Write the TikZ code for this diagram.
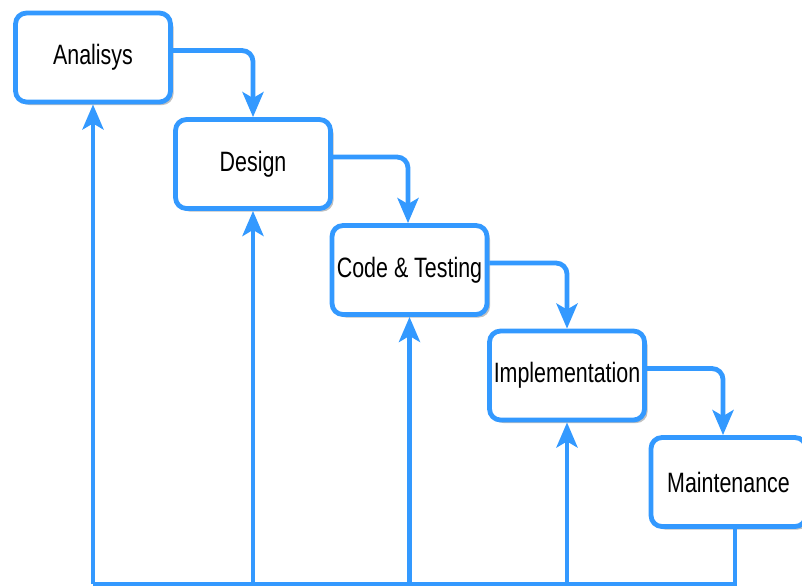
\documentclass[tikz,border=0pt]{standalone}
\usepackage{fontspec}
\setmainfont{Liberation Sans}
\usetikzlibrary{arrows.meta,shadows,calc}
\definecolor{flowblue}{RGB}{51,153,255}
\newcommand{\boxtext}[1]{\fontsize{28}{30}\selectfont\scalebox{0.765}[1]{#1}}
\tikzset{
  stage/.style={draw=flowblue, line width=4.8pt, fill=white, rounded corners=11pt,
    minimum width=155pt, minimum height=89pt, inner sep=0pt,
    drop shadow={shadow xshift=3pt, shadow yshift=-3pt, fill=black!35, opacity=.7}},
  flow/.style={draw=flowblue, line width=4.8pt},
  tip/.style={-{Stealth[length=25pt, width=21pt, inset=6pt]}},
}
\begin{document}
\begin{tikzpicture}[x=1pt, y=-1pt]
\useasboundingbox (0,0) rectangle (802,587);
\node[stage] (a) at (93,57.5) {\boxtext{Analisys}};
\node[stage] (d) at (253,164) {\boxtext{Design}};
\node[stage] (c) at (409.5,270) {\boxtext{Code \& Testing}};
\node[stage] (i) at (567,375.5) {\boxtext{Implementation}};
\node[stage] (m) at (728.5,482) {\boxtext{Maintenance}};
% forward connectors
\draw[flow, tip, rounded corners=11pt] ($(a.east)+(0,-7)$) -| (d.north);
\draw[flow, tip, rounded corners=11pt] ($(d.east)+(0,-7)$) -| ($(c.north)+(-1.5,0)$);
\draw[flow, tip, rounded corners=11pt] ($(c.east)+(0,-7)$) -| (i.north);
\draw[flow, tip, rounded corners=11pt] ($(i.east)+(0,-7)$) -| ($(m.north)+(-5.5,0)$);
% feedback loop
\coordinate (br) at (735,584);
\coordinate (bl) at (93,584);
\draw[flow] ($(m.south)+(6.5,0)$) -- (br) -- (bl);
\draw[flow, tip] (bl) -- (a.south);
\draw[flow, tip] (d.south |- br) -- (d.south);
\draw[flow, tip] (c.south |- br) -- (c.south);
\draw[flow, tip] (i.south |- br) -- (i.south);
\end{tikzpicture}
\end{document}
